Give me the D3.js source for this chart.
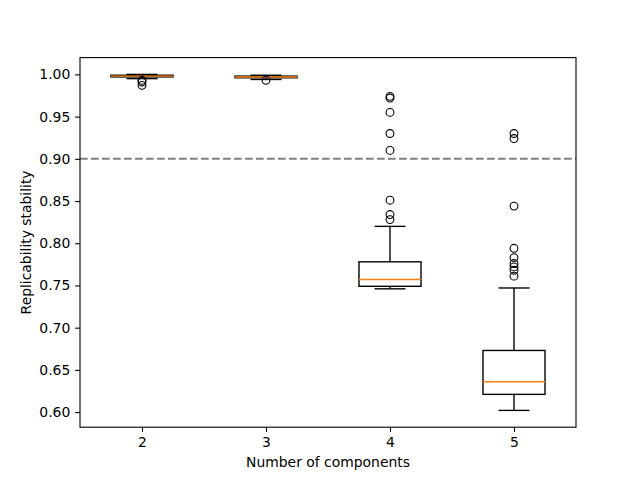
<!DOCTYPE html>
<html>
<head>
<meta charset="utf-8">
<script src="https://cdn.jsdelivr.net/npm/d3@7"></script>
<style>
  body { margin: 0; background: #fff; }
  svg { font-family: "DejaVu Sans", sans-serif; }
</style>
</head>
<body>
<div id="chart"></div>
<script>
// box summary per number of components
var categories = ['2', '3', '4', '5'];
var whiskerLow = [0.995, 0.994, 0.746, 0.602];
var q1 = [0.997, 0.996, 0.749, 0.621];
var medians = [0.998, 0.997, 0.757, 0.636];
var q3 = [0.999, 0.998, 0.778, 0.673];
var whiskerHigh = [1.000, 0.999, 0.820, 0.747];
var outliers = [
    [0.993, 0.991, 0.987],
    [0.993],
    [0.974, 0.972, 0.955, 0.930, 0.910, 0.851, 0.834, 0.828],
    [0.930, 0.924, 0.844, 0.794, 0.783, 0.776, 0.772, 0.768, 0.761]
];
var threshold = 0.9;
var yTicks = [0.60, 0.65, 0.70, 0.75, 0.80, 0.85, 0.90, 0.95, 1.00];

var width = 640, height = 480;
var margin = {left: 80, right: 64, top: 57.6, bottom: 52.8};
var lw = 1.39;

var svg = d3.select('#chart').append('svg')
            .attr('width', width)
            .attr('height', height)
            .attr('viewBox', [0, 0, width, height]);

var x = d3.scaleLinear().domain([0.5, 4.5])
          .range([margin.left, width - margin.right]);
var y = d3.scaleLinear().domain([0.5821, 1.0199])
          .range([height - margin.bottom, margin.top]);

var boxW = x(1.25) - x(1);   // half-width of box (width 0.5)
var capW = boxW / 2;

// threshold line
svg.append('line')
    .attr('x1', x(0.5)).attr('x2', x(4.5))
    .attr('y1', y(threshold)).attr('y2', y(threshold))
    .attr('stroke', '#808080')
    .attr('stroke-width', 2.08)
    .attr('stroke-dasharray', '7.7,3.3');

var g = svg.append('g');
categories.forEach(function (c, i) {
    var cx = x(i + 1);
    var box = g.append('g');
    box.append('line').attr('x1', cx).attr('x2', cx)
        .attr('y1', y(q1[i])).attr('y2', y(whiskerLow[i]));
    box.append('line').attr('x1', cx).attr('x2', cx)
        .attr('y1', y(q3[i])).attr('y2', y(whiskerHigh[i]));
    box.append('line').attr('x1', cx - capW).attr('x2', cx + capW)
        .attr('y1', y(whiskerLow[i])).attr('y2', y(whiskerLow[i]));
    box.append('line').attr('x1', cx - capW).attr('x2', cx + capW)
        .attr('y1', y(whiskerHigh[i])).attr('y2', y(whiskerHigh[i]));
    box.append('rect')
        .attr('x', cx - boxW).attr('width', 2 * boxW)
        .attr('y', y(q3[i])).attr('height', y(q1[i]) - y(q3[i]))
        .attr('fill', 'none');
    box.selectAll('line,rect')
        .attr('stroke', '#000')
        .attr('stroke-width', lw);
    box.append('line').attr('x1', cx - boxW).attr('x2', cx + boxW)
        .attr('y1', y(medians[i])).attr('y2', y(medians[i]))
        .attr('stroke', '#ff7f0e')
        .attr('stroke-width', lw);
    box.selectAll('circle').data(outliers[i]).enter()
        .append('circle')
        .attr('cx', cx)
        .attr('cy', function (d) { return y(d); })
        .attr('r', 3.9)
        .attr('fill', 'none')
        .attr('stroke', '#000')
        .attr('stroke-width', 1.1);
});

// axes
var xAxis = d3.axisBottom(x).tickValues([1, 2, 3, 4])
              .tickFormat(function (d) { return categories[d - 1]; })
              .tickSize(4.86).tickPadding(4.9);
var yAxis = d3.axisLeft(y).tickValues(yTicks)
              .tickFormat(d3.format('.2f'))
              .tickSize(4.86).tickPadding(4.9);

var gx = svg.append('g')
    .attr('transform', 'translate(0,' + (height - margin.bottom) + ')')
    .call(xAxis);
var gy = svg.append('g')
    .attr('transform', 'translate(' + margin.left + ',0)')
    .call(yAxis);
svg.selectAll('.domain').remove();
svg.selectAll('.tick line').attr('stroke', '#000').attr('stroke-width', 1.1);
svg.selectAll('.tick text')
    .attr('fill', '#000')
    .attr('font-size', '13.9px')
    .attr('font-family', 'DejaVu Sans');

// frame
svg.append('rect')
    .attr('x', margin.left).attr('y', margin.top)
    .attr('width', width - margin.left - margin.right)
    .attr('height', height - margin.top - margin.bottom)
    .attr('fill', 'none')
    .attr('stroke', '#000')
    .attr('stroke-width', 1.1);

svg.append('text')
    .attr('x', (margin.left + width - margin.right) / 2)
    .attr('y', 467)
    .attr('text-anchor', 'middle')
    .attr('font-size', '13.9px')
    .text('Number of components');

svg.append('text')
    .attr('transform', 'translate(31,' + ((margin.top + height - margin.bottom) / 2) + ') rotate(-90)')
    .attr('text-anchor', 'middle')
    .attr('font-size', '13.9px')
    .text('Replicability stability');
</script>
</body>
</html>
